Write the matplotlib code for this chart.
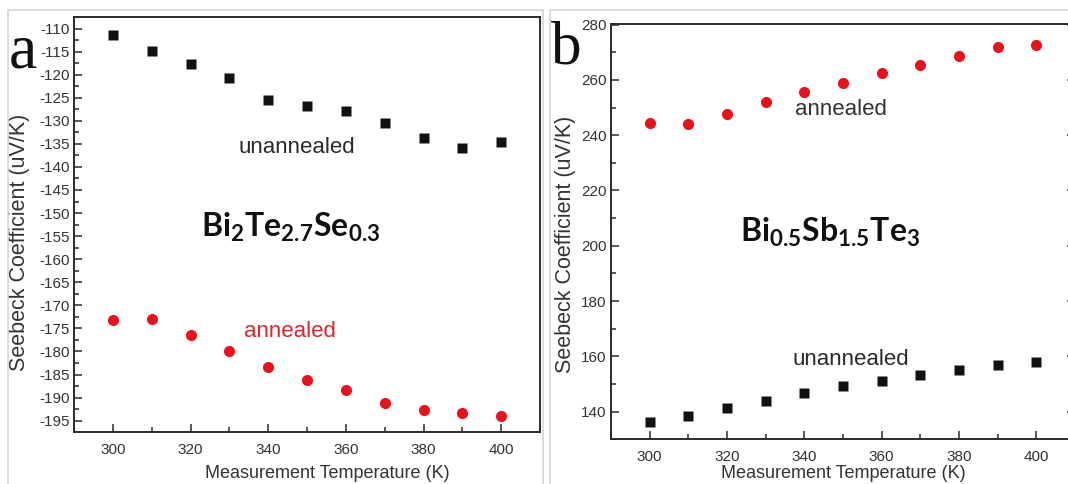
import matplotlib
matplotlib.use('Agg')
import matplotlib.pyplot as plt
from matplotlib.ticker import MultipleLocator
from matplotlib.patches import Rectangle
from matplotlib import font_manager as fm

# ---------------- data ----------------
temps = [300, 310, 320, 330, 340, 350, 360, 370, 380, 390, 400]
a_unannealed = [-111.5, -114.9, -117.6, -120.7, -125.4, -126.9, -127.9, -130.5, -133.8, -136.0, -134.7]
a_annealed = [-173.1, -172.9, -176.5, -180.0, -183.4, -186.1, -188.4, -191.1, -192.6, -193.4, -194.0]
b_annealed = [244.5, 243.9, 247.6, 251.9, 255.6, 258.9, 262.5, 265.3, 268.5, 271.9, 272.5]
b_unannealed = [136.4, 138.6, 141.2, 144.0, 146.8, 149.1, 151.1, 153.2, 154.9, 156.9, 157.9]
x_ticks = [300, 320, 340, 360, 380, 400]
a_yticks = list(range(-195, -109, 5))
b_yticks = list(range(140, 281, 20))
label_unannealed = "unannealed"
label_annealed = "annealed"
formula_a = r'$\mathrm{Bi_{2}Te_{2.7}Se_{0.3}}$'
formula_b = r'$\mathrm{Bi_{0.5}Sb_{1.5}Te_{3}}$'
ylabel = "Seebeck Coefficient (uV/K)"
xlabel = "Measurement Temperature (K)"

# ---------------- fonts ----------------
names = {f.name for f in fm.fontManager.ttflist}
if 'Liberation Sans Narrow' in names:
    NARROW = 'Liberation Sans Narrow'
    tick_fs, note_fs, xl_fs = 12.5, 19, 15.5
else:
    NARROW = 'Liberation Sans'
    tick_fs, note_fs, xl_fs = 11, 16, 13
plt.rcParams['axes.unicode_minus'] = False
plt.rcParams['mathtext.fontset'] = 'custom'
plt.rcParams['mathtext.rm'] = 'Lato:bold'
plt.rcParams['mathtext.it'] = 'Lato:bold'
plt.rcParams['mathtext.bf'] = 'Lato:bold'

W, H = 1068, 484
fig = plt.figure(figsize=(W / 100, H / 100), dpi=100)

# panel frames
fig.patches.append(Rectangle((8 / W, -0.05), (543 - 8) / W, 1.05 - 10 / H,
                             transform=fig.transFigure, fill=False,
                             edgecolor='#d4d4d4', lw=1.2, zorder=0))
fig.patches.append(Rectangle((550 / W, -0.05), 0.6, 1.05 - 10 / H,
                             transform=fig.transFigure, fill=False,
                             edgecolor='#d4d4d4', lw=1.2, zorder=0))

axA = fig.add_axes([74 / W, 1 - 431.7 / H, 466 / W, 414.7 / H])
axB = fig.add_axes([611 / W, 1 - 439.3 / H, 464 / W, 415.3 / H])

dark = '#2b2b2b'
red = '#e8121c'

def style(ax, yticks, ymin, ymax, yminor, right):
    ax.set_xlim(290, 410)
    ax.set_ylim(ymin, ymax)
    ax.set_xticks(x_ticks)
    ax.set_yticks(yticks)
    ax.xaxis.set_minor_locator(MultipleLocator(10))
    ax.yaxis.set_minor_locator(MultipleLocator(yminor))
    ax.tick_params(which='both', direction='in', color=dark, width=1.1,
                   top=False, right=right)
    ax.tick_params(which='major', length=6)
    ax.tick_params(which='minor', length=3.5)
    ax.tick_params(axis='x', which='major', pad=8)
    ax.tick_params(axis='y', which='major', pad=3)
    for lab in ax.get_xticklabels() + ax.get_yticklabels():
        lab.set_fontfamily(NARROW)
        lab.set_fontsize(tick_fs)
        lab.set_color('#333333')
    for s in ax.spines.values():
        s.set_linewidth(1.4)
        s.set_color(dark)
    ax.set_facecolor('white')

style(axA, a_yticks, -197.4, -107.5, 2.5, False)
style(axB, b_yticks, 130.0, 280.2, 10, True)

# data
axA.plot(temps, a_unannealed, 's', color='#111111', markersize=6.8, mec='none')
axA.plot(temps, a_annealed, 'o', color=red, markersize=8, mec='none')
axB.plot(temps, b_annealed, 'o', color=red, markersize=8, mec='none')
axB.plot(temps, b_unannealed, 's', color='#111111', markersize=6.8, mec='none')

# annotations
axA.text(347.5, -135.7, label_unannealed, ha='center', va='center',
         fontfamily=NARROW, fontsize=note_fs, color='#2a2a2a')
axA.text(345.7, -175.6, label_annealed, ha='center', va='center',
         fontfamily=NARROW, fontsize=note_fs, color='#d9262e')
axB.text(349.4, 249.2, label_annealed, ha='center', va='center',
         fontfamily=NARROW, fontsize=note_fs, color='#333333')
axB.text(352.0, 158.9, label_unannealed, ha='center', va='center',
         fontfamily=NARROW, fontsize=note_fs, color='#2a2a2a')
axA.text(345.7, -155.1, formula_a, ha='center', va='baseline',
         fontsize=23, color='#111111')
axB.text(346.7, 201.3, formula_b, ha='center', va='baseline',
         fontsize=23, color='#111111')

# axis labels
for ax, xlx, xly, ylx, yly in [(axA, 0.543, -0.102, -0.118, 0.457),
                               (axB, 0.5, -0.083, -0.099, 0.470)]:
    ax.set_ylabel(ylabel, fontfamily='Liberation Sans', fontsize=15.5,
                  color='#333333')
    ax.yaxis.set_label_coords(ylx, yly)
    ax.yaxis.label.set_va('center')
    ax.set_xlabel(xlabel, fontfamily=NARROW, fontsize=xl_fs, color='#333333')
    ax.xaxis.set_label_coords(xlx, xly)
    ax.xaxis.label.set_va('center')

# panel letters
fig.text(9 / W, 1 - 68 / H, 'a', fontfamily='Liberation Serif', fontsize=46,
         ha='left', va='baseline', color='#111111')
fig.text(551 / W, 1 - 63 / H, 'b', fontfamily='Liberation Serif', fontsize=44,
         ha='left', va='baseline', color='#111111')

fig.savefig('out.png', dpi=100)
